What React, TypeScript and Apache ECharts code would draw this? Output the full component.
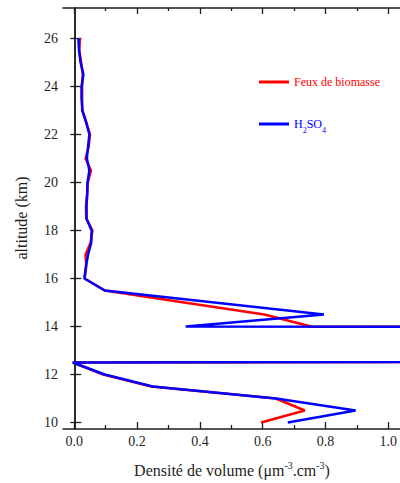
import React, { useEffect, useRef } from "react";
import * as echarts from "echarts";

const ALTITUDES = [26, 25.5, 25, 24.5, 24, 23.5, 23, 22.5, 22, 21.5, 21, 20.5, 20, 19.5, 19, 18.5, 18, 17.5, 17, 16.5, 16, 15.5, 15, 14.5, 14, 13.5, 13, 12.5, 12, 11.5, 11, 10.5, 10];
const FEUX = [0.018, 0.016, 0.022, 0.027, 0.025, 0.025, 0.025, 0.038, 0.05, 0.046, 0.036, 0.053, 0.043, 0.041, 0.037, 0.038, 0.058, 0.052, 0.036, 0.038, 0.033, 0.097, 0.35, 0.605, 0.754, 30, 30, -0.005, 0.092, 0.245, 0.642, 0.734, 0.595];
const H2SO4 = [0.013, 0.015, 0.02, 0.029, 0.023, 0.023, 0.026, 0.038, 0.048, 0.044, 0.04, 0.048, 0.042, 0.041, 0.039, 0.039, 0.055, 0.054, 0.044, 0.037, 0.032, 0.097, 0.446, 0.795, 0.355, 30, 30, -0.005, 0.097, 0.25, 0.643, 0.896, 0.68];
const X_TICKS = [0, 0.2, 0.4, 0.6, 0.8, 1.0];
const X_MINOR_TICKS = [0.1, 0.3, 0.5, 0.7, 0.9];
const Y_TICKS = [10, 12, 14, 16, 18, 20, 22, 24, 26];
const SERIES_NAMES = ["Feux de biomasse", "H2SO4"];

const FONT = "Liberation Serif";
const AXIS_COLOR = "#1e1e1e";
const X_MIN = -0.036;
const X_MAX = 1.037;
const Y_MIN = 9.73;
const Y_MAX = 27.27;

export default function App() {
  const ref = useRef<HTMLDivElement>(null);
  useEffect(() => {
    if (!ref.current) return;
    const chart = echarts.init(ref.current, null, { renderer: "svg" });
    const axisLine = { show: true, lineStyle: { color: AXIS_COLOR, width: 1.5 } };
    const xBase = { type: "value", min: X_MIN, max: X_MAX, splitLine: { show: false } };
    chart.setOption({
      animation: false,
      backgroundColor: "#ffffff",
      textStyle: { fontFamily: FONT },
      grid: { left: 63, right: -1, top: 8, bottom: 54, containLabel: false },
      xAxis: [
        {
          ...xBase,
          position: "bottom",
          axisLine,
          axisTick: { show: true, inside: true, length: 7, customValues: X_TICKS, lineStyle: { color: AXIS_COLOR, width: 1.3 } },
          axisLabel: {
            show: true,
            customValues: X_TICKS,
            margin: 5,
            fontFamily: FONT,
            fontSize: 14,
            color: AXIS_COLOR,
            formatter: (v: number) => v.toFixed(1),
          },
        },
        {
          ...xBase,
          position: "bottom",
          axisLine: { show: false },
          axisTick: { show: true, inside: true, length: 4, customValues: X_MINOR_TICKS, lineStyle: { color: AXIS_COLOR, width: 1.3 } },
          axisLabel: { show: false },
        },
        {
          ...xBase,
          position: "top",
          axisLine,
          axisTick: { show: true, inside: true, length: 6, customValues: X_TICKS, lineStyle: { color: AXIS_COLOR, width: 1.3 } },
          axisLabel: { show: false },
        },
        {
          ...xBase,
          position: "top",
          axisLine: { show: false },
          axisTick: { show: true, inside: true, length: 3, customValues: X_MINOR_TICKS, lineStyle: { color: AXIS_COLOR, width: 1.3 } },
          axisLabel: { show: false },
        },
      ],
      yAxis: [
        {
          type: "value",
          min: Y_MIN,
          max: Y_MAX,
          position: "left",
          splitLine: { show: false },
          axisLine,
          axisTick: { show: true, inside: true, length: 7, customValues: Y_TICKS, lineStyle: { color: AXIS_COLOR, width: 1.3 } },
          axisLabel: { show: true, customValues: Y_TICKS, margin: 5, fontFamily: FONT, fontSize: 14, color: AXIS_COLOR },
        },
        {
          type: "value",
          min: Y_MIN,
          max: Y_MAX,
          position: "right",
          splitLine: { show: false },
          axisLine,
          axisTick: { show: true, inside: true, length: 4, customValues: Y_TICKS, lineStyle: { color: AXIS_COLOR, width: 1.3 } },
          axisLabel: { show: false },
        },
      ],
      legend: {
        orient: "vertical",
        left: 254,
        top: 71,
        itemWidth: 30,
        itemHeight: 3,
        itemGap: 30,
        icon: "rect",
        data: [
          { name: SERIES_NAMES[0], textStyle: { color: "#ff0000" } },
          { name: SERIES_NAMES[1], textStyle: { color: "#0000ff" } },
        ],
        formatter: (name: string) => (name === "H2SO4" ? "{n|H}{s|2}{n|SO}{s|4}" : name),
        textStyle: {
          fontFamily: FONT,
          fontSize: 12,
          rich: {
            n: { fontFamily: FONT, fontSize: 12, color: "#0000ff", lineHeight: 14 },
            s: { fontFamily: FONT, fontSize: 8, color: "#0000ff", lineHeight: 8, verticalAlign: "bottom", padding: [0, 0, -3, 0] },
          },
        },
      },
      graphic: [
        {
          type: "text",
          x: 21,
          y: 218,
          rotation: Math.PI / 2,
          style: {
            text: "altitude (km)",
            fontFamily: FONT,
            fontSize: 16,
            fill: AXIS_COLOR,
            align: "center",
            verticalAlign: "middle",
          },
        },
        {
          type: "text",
          x: 232,
          y: 470,
          style: {
            text: "{m|Densité de volume (μm}{p|-3}{m|.cm}{p|-3}{m|)}",
            align: "center",
            verticalAlign: "middle",
            rich: {
              m: { fontFamily: FONT, fontSize: 16, fill: AXIS_COLOR, lineHeight: 20 },
              p: { fontFamily: FONT, fontSize: 10, fill: AXIS_COLOR, lineHeight: 10, verticalAlign: "top" },
            },
          },
        },
      ],
      series: [
        {
          name: SERIES_NAMES[0],
          type: "line",
          xAxisIndex: 0,
          yAxisIndex: 0,
          symbol: "none",
          clip: true,
          lineStyle: { color: "#ff0000", width: 2.5 },
          itemStyle: { color: "#ff0000" },
          data: ALTITUDES.map((a, i) => [FEUX[i], a]),
        },
        {
          name: SERIES_NAMES[1],
          type: "line",
          xAxisIndex: 0,
          yAxisIndex: 0,
          symbol: "none",
          clip: true,
          lineStyle: { color: "#0000ff", width: 2.5 },
          itemStyle: { color: "#0000ff" },
          data: ALTITUDES.map((a, i) => [H2SO4[i], a]),
        },
      ],
    });
    return () => chart.dispose();
  }, []);
  return <div ref={ref} style={{ position: "fixed", left: 0, top: 0, width: 400, height: 483 }} />;
}
